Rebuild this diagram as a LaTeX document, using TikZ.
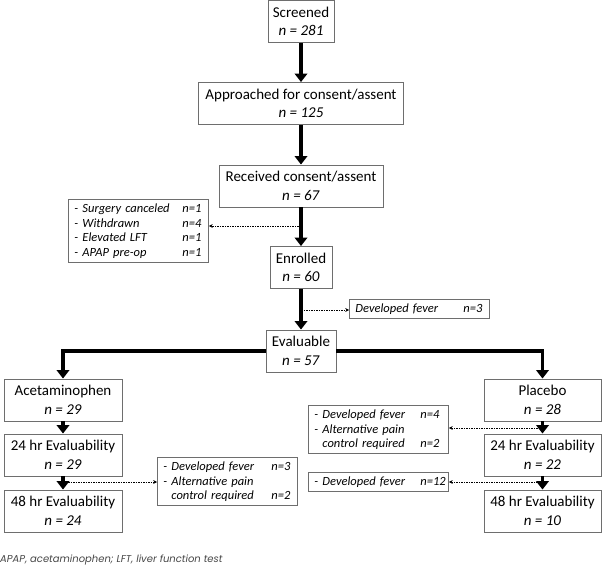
\documentclass[tikz,border=0pt]{standalone}
\usepackage{fontspec}
\setmainfont{Carlito}
\newfontfamily\footfont{Poppins}
\usetikzlibrary{arrows.meta}
\definecolor{boxgray}{RGB}{110,110,110}
\definecolor{footgray}{RGB}{70,70,70}
\tikzset{
 mainbox/.style={draw=boxgray, line width=0.9pt, fill=white, align=center, inner sep=0pt, font=\fontsize{15}{18.5}\selectfont, minimum height=42pt},
 exbox/.style={draw=boxgray, line width=0.9pt, fill=white, align=left, anchor=north west, inner xsep=6pt, inner ysep=4.2pt, text width=128pt, font=\fontsize{12.5}{14.7}\selectfont\itshape},
 bigarrow/.style={line width=3.6pt, -{Triangle[width=12.5pt,length=8.5pt]}},
 dotarrow/.style={line width=0.6pt, dash pattern=on 1.5pt off 1pt, -{Stealth[width=3.8pt,length=3.8pt]}},
}
\begin{document}
\begin{tikzpicture}[x=1pt,y=-1pt]
\fill[white] (0,0) rectangle (602,569);
\useasboundingbox (0,0) rectangle (602,569);
% main column
\node[mainbox, minimum width=66pt] (scr) at (301,21.5) {Screened\\\textit{n = 281}};
\node[mainbox, minimum width=205pt] (app) at (301,103.5) {Approached for consent/assent\\\textit{n = 125}};
\node[mainbox, minimum width=164pt] (rec) at (301,186) {Received consent/assent\\\textit{n = 67}};
\node[mainbox, minimum width=62pt] (enr) at (301,267.5) {Enrolled\\\textit{n = 60}};
\node[mainbox, minimum width=70pt] (eva) at (301,351) {Evaluable\\\textit{n = 57}};
% arms
\node[mainbox, minimum width=118pt] (ace) at (63,400) {Acetaminophen\\\textit{n = 29}};
\node[mainbox, minimum width=118pt] (a24) at (63,455) {24 hr Evaluability\\\textit{n = 29}};
\node[mainbox, minimum width=118pt] (a48) at (63,511) {48 hr Evaluability\\\textit{n = 24}};
\node[mainbox, minimum width=117pt] (pla) at (542.5,400) {Placebo\\\textit{n = 28}};
\node[mainbox, minimum width=117pt] (p24) at (542.5,455) {24 hr Evaluability\\\textit{n = 22}};
\node[mainbox, minimum width=117pt] (p48) at (542.5,511) {48 hr Evaluability\\\textit{n = 10}};
% exclusion boxes
\node[exbox] (lex) at (68,199) {\makebox[108pt][l]{- Surgery canceled}n=1\\\makebox[108pt][l]{- Withdrawn}n=4\\\makebox[108pt][l]{- Elevated LFT}n=1\\\makebox[108pt][l]{- APAP pre-op}n=1};
\node[exbox] (fev) at (349,299) {\makebox[108pt][l]{Developed fever}n=3};
\node[exbox] (mex) at (157,457) {\makebox[108pt][l]{- Developed fever}n=3\\- Alternative pain\\\makebox[108pt][l]{\phantom{- }control required}n=2};
\node[exbox] (rex1) at (308,405) {\makebox[106pt][l]{- Developed fever}n=4\\- Alternative pain\\\makebox[106pt][l]{\phantom{- }control required}n=2};
\node[exbox] (rex2) at (308,472) {\makebox[106pt][l]{- Developed fever}n=12};
% thick arrows
\draw[bigarrow] (scr.south) -- (app.north);
\draw[bigarrow] (app.south) -- (rec.north);
\draw[bigarrow] (rec.south) -- (enr.north);
\draw[bigarrow] (enr.south) -- (eva.north);
\draw[bigarrow] (eva.west) -| (ace.north);
\draw[bigarrow] (eva.east) -| (pla.north);
\draw[bigarrow] (ace.south) -- (a24.north);
\draw[bigarrow] (a24.south) -- (a48.north);
\draw[bigarrow] (pla.south) -- (p24.north);
\draw[bigarrow] (p24.south) -- (p48.north);
% dotted arrows
\coordinate (d1) at (301,226);
\coordinate (d2) at (301,310);
\coordinate (d3) at (63,482);
\coordinate (d4) at (542.5,428);
\coordinate (d5) at (542.5,482);
\draw[dotarrow] (d1) -- (d1 -| lex.east);
\draw[dotarrow] (d2) -- (d2 -| fev.west);
\draw[dotarrow] (d3) -- (d3 -| mex.west);
\draw[dotarrow] (d4) -- (d4 -| rex1.east);
\draw[dotarrow] (d5) -- (d5 -| rex2.east);
% footnote
\node[anchor=west, inner sep=0pt, text=footgray, font=\fontsize{10}{12}\selectfont\footfont\itshape] (foot) at (0,560) {APAP, acetaminophen; LFT, liver function test};
\end{tikzpicture}
\end{document}
